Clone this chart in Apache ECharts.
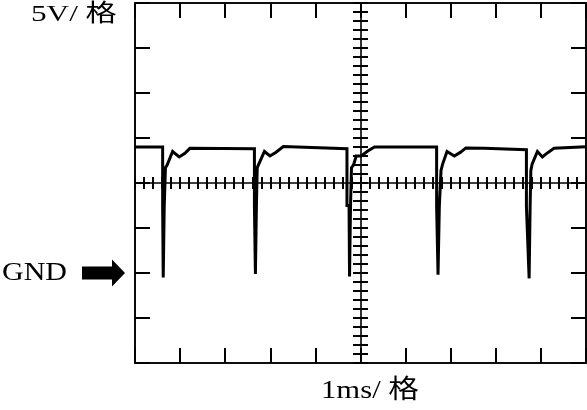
<!DOCTYPE html>
<html>
<head>
<meta charset="utf-8">
<script src="https://cdn.jsdelivr.net/npm/echarts@6/dist/echarts.min.js"></script>
<style>
html,body{margin:0;padding:0;background:#fff;}
#chart{width:587px;height:410px;}
</style>
</head>
<body>
<div id="chart"></div>
<script>
// ---- data (time in ms, voltage in V) ----
var timeMs = [0, 0.613, 0.613, 0.626, 0.648, 0.675, 0.675, 0.712, 0.834, 0.980, 1.106, 1.217,
  2.648, 2.648, 2.670, 2.692, 2.710, 2.870, 2.993, 3.119, 3.290,
  4.700, 4.700, 4.746, 4.757, 4.779, 4.800, 4.800, 4.845, 4.905, 5.015, 5.161, 5.310,
  6.688, 6.688, 6.719, 6.748, 6.785, 6.785, 6.821, 6.918, 7.080, 7.212, 7.338, 7.743,
  8.679, 8.679, 8.739, 8.761, 8.777, 8.777, 8.805, 8.923, 9.033, 9.159, 9.292, 10.0];
var volts = [14.0, 14.0, 7.4, -0.5, 7.4, 7.4, 11.7, 12.0, 13.5, 12.9, 13.3, 13.85,
  13.8, 7.4, -0.1, 7.4, 11.7, 13.5, 13.0, 13.4, 14.05,
  13.8, 7.5, 7.5, -0.4, 7.5, 7.5, 11.7, 12.0, 13.0, 13.0, 13.55, 14.0,
  14.0, 7.4, -0.2, 7.4, 7.4, 11.4, 12.1, 13.5, 13.0, 13.4, 13.9, 13.85,
  13.7, 7.4, -0.6, 7.4, 7.4, 11.4, 12.1, 13.5, 12.9, 13.4, 13.85, 14.03];

var voltsLabel = '5V/ 格';
var timeLabel = '1ms/ 格';
var gndLabel = 'GND';
var xMin = 0, xMax = 10, xDiv = 1, xMinor = 0.2;
var yMin = -10, yMax = 30, yDiv = 5, yMinor = 1;
var gndValue = 0;

var seriesData = timeMs.map(function (t, i) { return [t, volts[i]]; });

var chart = echarts.init(document.getElementById('chart'), null, {renderer: 'canvas'});
var serif = 'Liberation Serif, Noto Sans CJK SC, serif';

function xAx(pos, offset, interval, inside, len, showLine) {
  return {
    type: 'value', min: xMin, max: xMax, interval: interval, position: pos, offset: offset,
    axisLine: {show: showLine, onZero: false, lineStyle: {color: '#000', width: 1.6}},
    axisTick: {show: true, inside: inside, length: len, lineStyle: {color: '#000', width: 2}},
    axisLabel: {show: false}, splitLine: {show: false}
  };
}
function yAx(pos, offset, interval, inside, len, showLine) {
  return {
    type: 'value', min: yMin, max: yMax, interval: interval, position: pos, offset: offset,
    axisLine: {show: showLine, onZero: false, lineStyle: {color: '#000', width: 1.6}},
    axisTick: {show: true, inside: inside, length: len, lineStyle: {color: '#000', width: 2}},
    axisLabel: {show: false}, splitLine: {show: false}
  };
}

chart.setOption({
  animation: false,
  backgroundColor: '#fff',
  grid: {left: 135, top: 3, width: 451, height: 360, show: true, borderColor: '#000', borderWidth: 1.6, backgroundColor: 'transparent'},
  xAxis: [
    xAx('bottom', 0, xDiv, true, 15, true),
    xAx('top', 0, xDiv, true, 15, true),
    xAx('bottom', -180, xMinor, true, 6, true),
    xAx('bottom', -180, xMinor, false, 6, false)
  ],
  yAxis: [
    yAx('left', 0, yDiv, true, 15, true),
    yAx('right', 0, yDiv, true, 15, true),
    yAx('left', -225.5, yMinor, true, 7.5, true),
    yAx('left', -225.5, yMinor, false, 7.5, false)
  ],
  series: [{
    type: 'line', xAxisIndex: 0, yAxisIndex: 0, data: seriesData,
    showSymbol: false, symbol: 'none', smooth: false,
    lineStyle: {color: '#000', width: 3, join: 'miter'}, z: 5
  }]
});

var g = chart.convertToPixel({yAxisIndex: 0}, gndValue);
var gl = chart.convertToPixel({xAxisIndex: 0}, xMin);
var tip = gl - 10;
function txt(text, x, y, size, sx) {
  return {type: 'text', x: x, y: y, scaleX: sx,
    style: {text: text, fontSize: size, fontFamily: serif, fill: '#000', verticalAlign: 'middle', align: 'left'}};
}
chart.setOption({
  graphic: [
    txt(voltsLabel, 31, 15, 24, 1.3),
    txt(gndLabel, 2, g, 25, 1.2),
    txt(timeLabel, 321, 391, 26, 1.18),
    {type: 'polygon', shape: {points: [
      [tip, g], [tip - 13, g - 13.5], [tip - 13, g - 6.5], [tip - 43, g - 6.5],
      [tip - 43, g + 6.5], [tip - 13, g + 6.5], [tip - 13, g + 13.5]
    ]}, style: {fill: '#000'}}
  ]
});
</script>
</body>
</html>
